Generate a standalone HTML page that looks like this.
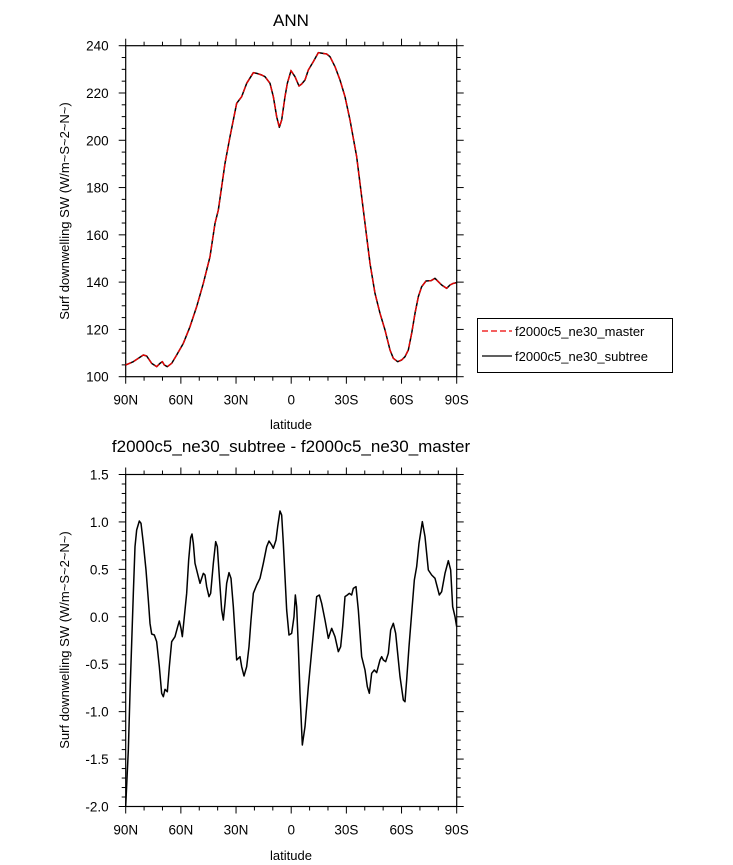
<!DOCTYPE html>
<html><head><meta charset="utf-8"><style>
body{margin:0;background:#fff;}
svg{display:block;font-family:"Liberation Sans",sans-serif;}
</style></head><body>
<svg id="s" width="733" height="865" viewBox="0 0 733 865" xmlns="http://www.w3.org/2000/svg">
<rect width="733" height="865" fill="#fff"/>
<text x="291" y="26" font-size="17" text-anchor="middle">ANN</text>
<text x="291" y="452" font-size="17" text-anchor="middle">f2000c5_ne30_subtree - f2000c5_ne30_master</text>
<text transform="translate(69,211) rotate(-90)" font-size="13" text-anchor="middle">Surf downwelling SW (W/m~S~2~N~)</text>
<text transform="translate(69,640) rotate(-90)" font-size="13" text-anchor="middle">Surf downwelling SW (W/m~S~2~N~)</text>
<text x="291" y="429" font-size="13" text-anchor="middle">latitude</text>
<text x="291" y="860" font-size="13" text-anchor="middle">latitude</text>
<g id="ax"></g>
<g transform="translate(100,30) scale(0.3333333)">
<path id="top" fill="none" stroke="#000" stroke-width="1.5" vector-effect="non-scaling-stroke" stroke-linejoin="round"/>
<path id="topr" fill="none" stroke="#e00" stroke-width="1.3" stroke-dasharray="6,3" vector-effect="non-scaling-stroke"/>
</g>
<g transform="translate(100,460) scale(0.3333333)">
<path id="bot" fill="none" stroke="#000" stroke-width="1.5" vector-effect="non-scaling-stroke" stroke-linejoin="round"/>
</g>
<rect x="477.5" y="318.5" width="195" height="54" fill="none" stroke="#000" stroke-width="1"/>
<line x1="482" y1="331" x2="512" y2="331" stroke="#e00" stroke-width="1.3" stroke-dasharray="6,3"/>
<text x="515" y="336" font-size="13">f2000c5_ne30_master</text>
<line x1="482" y1="356" x2="512" y2="356" stroke="#000" stroke-width="1.3"/>
<text x="515" y="361" font-size="13">f2000c5_ne30_subtree</text>
</svg>
<script>
var T=[[77,1005],[100,995],[130,975],[140,978],[155,1000],[170,1010],[180,1000],[187,995],[193,1005],[202,1010],[215,1000],[230,975],[250,940],[270,890],[290,830],[310,760],[330,680],[345,580],[355,540],[375,400],[390,320],[410,220],[425,200],[440,160],[460,128],[470,130],[485,135],[495,140],[510,160],[520,200],[530,260],[538,292],[545,270],[555,200],[562,160],[573,122],[585,140],[597,168],[605,162],[615,150],[625,120],[640,95],[655,68],[680,72],[690,80],[705,110],[720,150],[735,200],[750,270],[770,380],[785,500],[800,620],[810,700],[825,790],[840,850],[855,900],[870,960],[880,985],[893,995],[905,990],[915,980],[925,960],[935,910],[945,850],[955,800],[965,770],[978,753],[993,752],[1005,745],[1015,755],[1025,765],[1040,775],[1050,765],[1060,760],[1070,758]];
var B=[[77,1040],[85,870],[90,700],[95,550],[100,400],[105,260],[110,210],[118,183],[123,190],[130,250],[138,330],[145,420],[150,490],[155,522],[163,525],[170,545],[178,620],[185,700],[190,710],[195,688],[202,695],[208,620],[215,545],[225,530],[233,500],[238,483],[243,505],[247,530],[253,470],[260,400],[266,300],[272,233],[276,222],[280,250],[285,310],[295,350],[300,370],[310,340],[315,345],[320,380],[327,410],[332,400],[340,310],[347,245],[352,260],[358,350],[365,450],[370,480],[375,430],[380,370],[387,338],[393,355],[400,440],[405,520],[410,600],[420,590],[425,620],[432,648],[440,620],[447,560],[453,480],[460,400],[470,375],[480,355],[490,310],[500,260],[507,243],[515,255],[520,265],[528,240],[533,200],[540,153],[545,165],[550,250],[555,350],[560,450],[567,525],[575,520],[582,470],[586,405],[590,440],[595,560],[600,700],[607,855],[615,800],[625,680],[640,520],[650,410],[658,405],[665,430],[675,480],[685,535],[695,505],[705,530],[715,575],[722,560],[728,500],[735,410],[742,405],[748,400],[755,405],[760,385],[768,380],[775,450],[785,590],[795,630],[802,680],[808,700],[815,640],[823,630],[830,638],[840,600],[845,590],[850,600],[857,605],[865,580],[872,510],[880,490],[887,520],[895,600],[900,650],[910,720],[915,725],[920,660],[927,560],[935,460],[943,360],[950,320],[957,250],[967,185],[975,230],[985,330],[995,345],[1005,355],[1018,405],[1025,395],[1035,340],[1045,302],[1052,330],[1058,440],[1065,470],[1070,500]];
function P(a){return "M"+a.map(function(p){return p[0]+","+p[1]}).join("L");}
document.getElementById("top").setAttribute("d",P(T));
document.getElementById("topr").setAttribute("d",P(T));
document.getElementById("bot").setAttribute("d",P(B));
var g=document.getElementById("ax"),h="";
var X0=125.7,X1=456.7,xl=["90N","60N","30N","0","30S","60S","90S"];
function L(a,b,c,d){h+='<line x1="'+a+'" y1="'+b+'" x2="'+c+'" y2="'+d+'" stroke="#000" stroke-width="1"/>';}
function panel(yt,yb,vmin,vmax,maj,min,fmt){
 h+='<rect x="'+X0+'" y="'+yt+'" width="'+(X1-X0)+'" height="'+(yb-yt)+'" fill="none" stroke="#000" stroke-width="1.2"/>';
 for(var i=0;i<=18;i++){var x=X0+(X1-X0)*i/18,len=(i%3==0)?7:4;L(x,yb,x,yb+len);L(x,yt,x,yt-len);
  if(i%3==0)h+='<text x="'+x+'" y="'+(yb+28)+'" font-size="13.5" text-anchor="middle">'+xl[i/3]+'</text>';}
 var n=Math.round((vmax-vmin)/min);
 for(var j=0;j<=n;j++){var v=vmin+j*min,y=yb-(yb-yt)*j/n,isM=Math.abs(v/maj-Math.round(v/maj))<1e-6,len=isM?7:4;
  L(X0,y,X0-len,y);L(X1,y,X1+len,y);
  if(isM)h+='<text x="'+(X0-17)+'" y="'+(y+5)+'" font-size="13.5" text-anchor="end">'+fmt(v)+'</text>';}
}
panel(45.7,376.7,100,240,20,5,function(v){return Math.round(v)});
panel(474.5,806.5,-2,1.5,0.5,0.1,function(v){return v.toFixed(1)});
g.innerHTML=h;
</script>
</body></html>
